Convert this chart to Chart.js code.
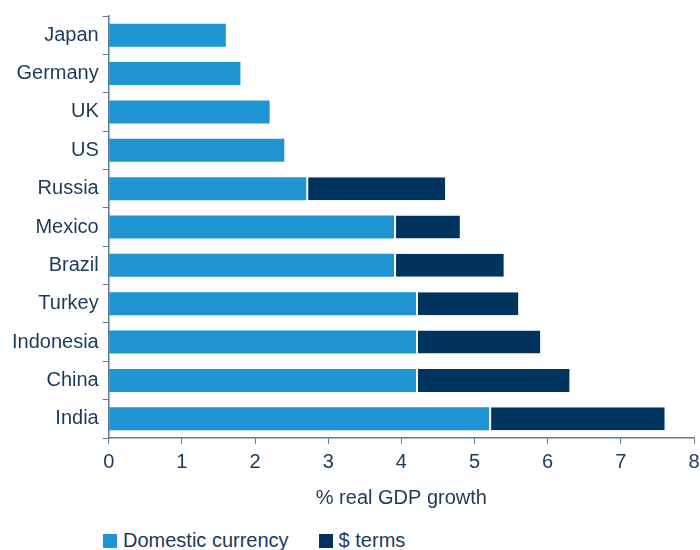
<!DOCTYPE html>
<html>
<head>
<meta charset="utf-8">
<script src="https://cdn.jsdelivr.net/npm/chart.js@4/dist/chart.umd.min.js"></script>
<style>
  html, body { margin:0; padding:0; background:#fff; }
  #wrap { position:relative; width:700px; height:550px; font-family:"Liberation Sans", Arial, sans-serif; }
  #box { position:absolute; left:0; top:0; width:700px; height:510px; }
  .legend { position:absolute; top:529px; left:103px; display:flex; align-items:center; font-size:20px; color:#1b3a5c; }
  .legend span.sw { display:inline-block; width:14px; height:14px; margin-right:6px; }
  .legend .item { display:flex; align-items:center; margin-right:30px; }
</style>
</head>
<body>
<div id="wrap">
  <div id="box"><canvas id="chartGdp"></canvas></div>
  <div class="legend" id="legend"></div>
</div>
<script>
const countries = ['Japan','Germany','UK','US','Russia','Mexico','Brazil','Turkey','Indonesia','China','India'];
const domestic  = [1.6, 1.8, 2.2, 2.4, 2.7, 3.9, 3.9, 4.2, 4.2, 4.2, 5.2];
const usdExtra  = [0,   0,   0,   0,   1.9, 0.9, 1.5, 1.4, 1.7, 2.1, 2.4];
const xTicks    = [0,1,2,3,4,5,6,7,8];

const C_DOM = '#1e94d2', C_USD = '#00335e';
const TXT = '#1b3a5c', AXIS = '#5d7a94';
const FONT = '"Liberation Sans", Arial, sans-serif';

document.getElementById('legend').innerHTML =
  [['Domestic currency', C_DOM], ['$ terms', C_USD]].map(([l, c]) =>
    `<span class="item"><span class="sw" style="background:${c}"></span>${l}</span>`).join('');

new Chart(document.getElementById('chartGdp'), {
  type:'bar',
  data:{
    labels:countries,
    datasets:[
      { label:'Domestic currency', data:domestic, backgroundColor:C_DOM, borderWidth:0 },
      { label:'$ terms', data:usdExtra, backgroundColor:C_USD, borderColor:'#ffffff',
        borderWidth:{left:2, top:0, right:0, bottom:0}, borderSkipped:false }
    ]
  },
  options:{
    indexAxis:'y', responsive:true, maintainAspectRatio:false, animation:false,
    categoryPercentage:1, barPercentage:0.6,
    layout:{ padding:{ top:15, right:0, left:8, bottom:0 } },
    plugins:{ legend:{display:false}, tooltip:{enabled:false} },
    scales:{
      x:{
        stacked:true, min:0, max:8,
        afterBuildTicks:ax => { ax.ticks = xTicks.map(v => ({value:v})); },
        afterFit:ax => { ax.paddingRight = 6; },
        grid:{ drawOnChartArea:false, drawTicks:true, tickLength:6, color:AXIS },
        border:{ color:AXIS, width:1.5 },
        ticks:{ color:TXT, font:{family:FONT, size:20}, padding:6 },
        title:{ display:true, text:'% real GDP growth', color:TXT, font:{family:FONT, size:20}, padding:{top:6, bottom:0} }
      },
      y:{
        stacked:true,
        grid:{ drawOnChartArea:false, drawTicks:true, tickLength:6, color:AXIS, offset:true },
        border:{ color:AXIS, width:1.5 },
        ticks:{ color:TXT, font:{family:FONT, size:20}, padding:4 }
      }
    }
  }
});
</script>
</body>
</html>
